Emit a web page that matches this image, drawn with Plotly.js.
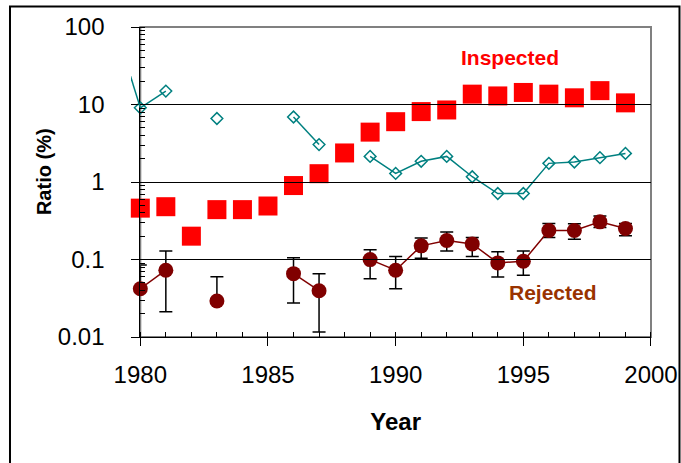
<!DOCTYPE html>
<html>
<head>
<meta charset="utf-8">
<script src="https://cdn.plot.ly/plotly-3.0.1.min.js"></script>
<style>
  html, body { margin: 0; padding: 0; background: #ffffff; }
  #chart { width: 681px; height: 463px; }
</style>
</head>
<body>
<div id="chart"></div>
<script>
// ---- data ----
const years = [1980, 1981, 1982, 1983, 1984, 1985, 1986, 1987, 1988, 1989,
               1990, 1991, 1992, 1993, 1994, 1995, 1996, 1997, 1998, 1999];

// Inspected ratio (%) - red squares
const inspected = [0.46, 0.48, 0.20, 0.44, 0.44, 0.49, 0.90, 1.28, 2.37, 4.4,
                   6.0, 8.1, 8.5, 13.6, 12.9, 14.3, 13.6, 12.2, 15.1, 10.5];

// Teal series (open diamonds with line), gaps where no value
const tealSeries = [9.06, 14.9, null, 6.6, null, null, 6.9, 3.04, null, 2.14,
                    1.29, 1.85, 2.14, 1.17, 0.71, 0.71, 1.74, 1.81, 2.06, 2.34];
// lead-in segment of the teal series coming from before the axis start
const tealLeadYears = [1979, 1980];
const tealLeadValues = [105, 9.06];

// Rejected ratio (%) - dark red circles with error bars
const rejected = [0.042, 0.0727, null, 0.0291, null, null, 0.0657, 0.0396, null, 0.0997,
                  0.0727, 0.150, 0.176, 0.159, 0.0904, 0.095, 0.237, 0.237, 0.306, 0.251];
const rejectedUpper = [0.085, 0.129, null, 0.060, null, null, 0.105, 0.0657, null, 0.134,
                       0.109, 0.190, 0.226, 0.192, 0.126, 0.129, 0.291, 0.29, 0.363, 0.291];
const rejectedLower = [null, 0.0212, null, null, null, null, 0.0275, 0.0116, null, 0.0566,
                       0.042, 0.104, 0.129, 0.109, 0.0596, 0.0626, 0.192, 0.183, 0.259, 0.202];

// axis / label text
const yTickVals = [0.01, 0.1, 1, 10, 100];
const yTickText = ['0.01', '0.1', '1', '10', '100'];
const xTitle = 'Year';
const yTitle = 'Ratio (%)';
const labelInspected = 'Inspected';
const labelRejected = 'Rejected';
const labelInspectedPos = [1994.48, 41];
const labelRejectedPos = [1996.16, 0.037];

// ---- derived ----
const errPlus = rejected.map((v, i) => (v == null || rejectedUpper[i] == null) ? 0 : rejectedUpper[i] - v);
const errMinus = rejected.map((v, i) => (v == null || rejectedLower[i] == null) ? 0 : v - rejectedLower[i]);

const FONT = 'Liberation Sans, Arial, Helvetica, sans-serif';
const d0 = 0.0179;                   // x axis starts a little right of the plot edge
const xMin = 1980, xMax = 2000;
const x2Min = xMax - (xMax - xMin) / (1 - d0);

const traces = [
  {
    x: tealLeadYears, y: tealLeadValues, xaxis: 'x2', yaxis: 'y',
    type: 'scatter', mode: 'lines',
    line: { color: '#008080', width: 1.5 },
    hoverinfo: 'skip', showlegend: false
  },
  {
    x: years, y: tealSeries, type: 'scatter', mode: 'lines+markers',
    line: { color: '#008080', width: 1.5 },
    marker: { symbol: 'diamond-open', size: 9, color: '#008080', line: { color: '#008080', width: 1.5 } },
    cliponaxis: false, showlegend: false
  },
  {
    x: years, y: inspected, type: 'scatter', mode: 'markers',
    name: labelInspected,
    marker: { symbol: 'square', size: 19, color: '#ff0000', line: { width: 0 } },
    cliponaxis: false, showlegend: false
  },
  {
    x: years, y: rejected, type: 'scatter', mode: 'lines+markers',
    name: labelRejected,
    line: { color: '#800000', width: 1.5 },
    marker: { symbol: 'circle', size: 15, color: '#800000', line: { width: 0 } },
    error_y: { type: 'data', symmetric: false, array: errPlus, arrayminus: errMinus,
               color: '#000000', thickness: 1.5, width: 6.5 },
    cliponaxis: false, showlegend: false
  }
];

const layout = {
  width: 681, height: 463,
  margin: { l: 131, r: 30, t: 27, b: 126, pad: 0 },
  paper_bgcolor: '#ffffff',
  plot_bgcolor: 'rgba(0,0,0,0)',
  font: { family: FONT, color: '#000000' },
  showlegend: false,
  xaxis: {
    domain: [d0, 1], range: [xMin, xMax], anchor: 'y',
    tick0: 1980, dtick: 5,
    ticks: 'outside', ticklen: 8, tickwidth: 1, tickcolor: '#000000',
    minor: { ticks: 'inside', ticklen: 5, dtick: 1, tickcolor: '#000000', tickwidth: 1, showgrid: false },
    showline: true, linecolor: '#000000', linewidth: 1,
    showgrid: false, zeroline: false,
    tickfont: { family: FONT, size: 24, color: '#000000' },
    ticklabelstandoff: 8,
    title: { text: xTitle, font: { family: FONT, size: 24, weight: 'bold', color: '#000000' }, standoff: 26 }
  },
  xaxis2: {
    domain: [0, 1], range: [x2Min, xMax], anchor: 'y',
    visible: false, showgrid: false, zeroline: false
  },
  yaxis: {
    type: 'log', range: [-2, 2], anchor: 'x',
    tickvals: yTickVals, ticktext: yTickText,
    ticks: 'outside', ticklen: 8, tickwidth: 1, tickcolor: '#000000',
    minor: { ticks: 'inside', ticklen: 5, dtick: 'D1', tickcolor: '#000000', tickwidth: 1, showgrid: false },
    showline: true, linecolor: '#000000', linewidth: 1,
    showgrid: true, gridcolor: '#000000', gridwidth: 1,
    zeroline: false,
    tickfont: { family: FONT, size: 24, color: '#000000' },
    ticklabelstandoff: 22
  },
  shapes: [
    { type: 'rect', xref: 'x domain', yref: 'y domain', x0: 0, x1: 1, y0: 0, y1: 1,
      line: { color: '#808080', width: 2 }, layer: 'below' },
    { type: 'rect', xref: 'paper', yref: 'paper', x0: -0.2327, x1: 1.0548, y0: -0.6, y1: 1.066,
      line: { color: '#000000', width: 2 }, layer: 'below' }
  ],
  annotations: [
    { text: yTitle, xref: 'paper', yref: 'paper', x: -0.1673, y: 0.532, textangle: -90,
      showarrow: false, xanchor: 'center', yanchor: 'middle',
      font: { family: FONT, size: 20, weight: 'bold', color: '#000000' } },
    { text: labelInspected, xref: 'x', yref: 'y', x: labelInspectedPos[0], y: Math.log10(labelInspectedPos[1]),
      showarrow: false, xanchor: 'center', yanchor: 'middle',
      font: { family: FONT, size: 21, weight: 'bold', color: '#ff0000' } },
    { text: labelRejected, xref: 'x', yref: 'y', x: labelRejectedPos[0], y: Math.log10(labelRejectedPos[1]),
      showarrow: false, xanchor: 'center', yanchor: 'middle',
      font: { family: FONT, size: 21, weight: 'bold', color: '#993300' } }
  ]
};

Plotly.newPlot('chart', traces, layout, { staticPlot: true, displayModeBar: false });
</script>
</body>
</html>
